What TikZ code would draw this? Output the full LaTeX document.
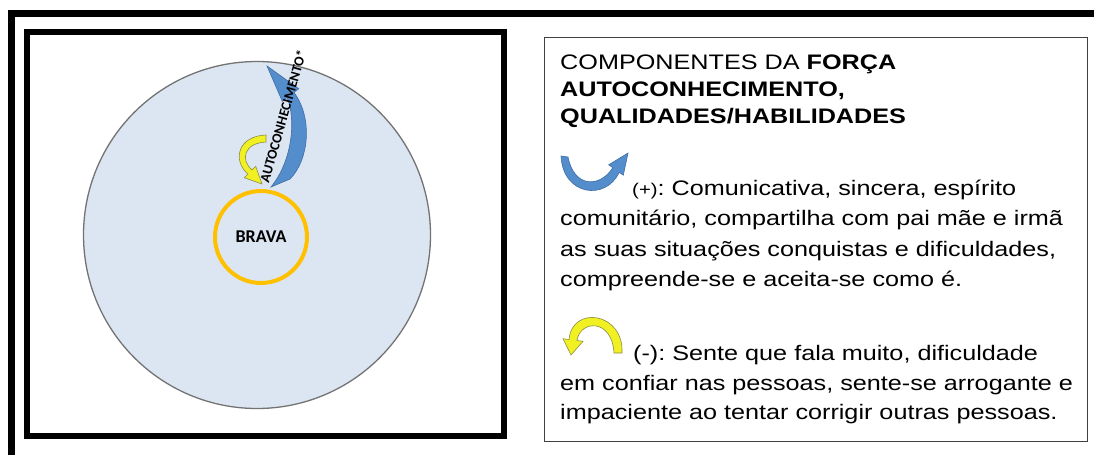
\documentclass[tikz,border=0pt]{standalone}
\usepackage{fontspec}
\setmainfont{Liberation Sans}[FakeStretch=1.2]
\newfontfamily\calibri{Carlito}
\frenchspacing

\definecolor{fieldblue}{RGB}{220,230,242}
\definecolor{arrowblue}{RGB}{84,141,204}
\definecolor{arrowedge}{RGB}{62,108,165}
\definecolor{arrowyellow}{RGB}{240,240,35}
\definecolor{yellowedge}{RGB}{140,140,70}
\definecolor{ring}{RGB}{255,192,0}

\tikzset{
  bluearrow/.style={fill=arrowblue, draw=arrowedge, line width=0.6pt},
  yellowarrow/.style={fill=arrowyellow, draw=yellowedge, line width=0.6pt},
  textline/.style={anchor=base west, inner sep=0pt, font=\fontsize{21}{30}\selectfont}
}

\begin{document}
\begin{tikzpicture}[x=1pt,y=-1pt]
      \useasboundingbox (0,0) rectangle (1094,455);

      % frames
      \draw[line width=7pt] (11,455) -- (11,13.5) -- (1094,13.5);
      \draw[line width=6pt] (26.5,32) rectangle (503.5,436);
      \draw[black!75, line width=1pt] (544.5,37.5) rectangle (1087.5,441.5);

      \node[circle, fill=fieldblue, draw=black!55, line width=1.3pt,
	minimum size=347pt, inner sep=0pt] (field) at (257,235) {};
      \node[circle, draw=ring, line width=4pt, minimum size=92pt,
	inner sep=0pt, font=\calibri\bfseries\fontsize{18}{18}\selectfont] (brava) at (261,237) {BRAVA};

      % arrows around the ring
      \draw[bluearrow] (271,187) -- (290,179) .. controls (309,160) and (313,118) .. (294,92.5)
	-- (298.7,88.7) -- (267,66) -- (282.3,101.3) -- (287,97.5)
	.. controls (296,118) and (293,160) .. (271,187) -- cycle;
      \draw[yellowarrow] (266,135) .. controls (238,136) and (232,160) .. (247.9,174.1)
	-- (244.3,177.7) -- (262,184) -- (255.7,166.3) -- (252.1,169.9)
	.. controls (240,160) and (244,143) .. (266,142) -- cycle;
      \node[rotate=74, inner sep=0pt, font=\calibri\bfseries\fontsize{14}{14}\selectfont]
	(force) at (283,116) {AUTOCONHECIMENTO*};

      % legend
      \foreach \t/\ty [count=\s] in {
	{COMPONENTES DA \textbf{FORÇA}}/69,
	{\textbf{AUTOCONHECIMENTO,}}/96,
	{\textbf{QUALIDADES/HABILIDADES}}/123
      }
      {
	\node[textline] (title\s) at (560,\ty) {\t};
      }

      \draw[bluearrow] (561,156) .. controls (563,196) and (606,201) .. (619.2,172.3)
	-- (623.3,175.2) -- (628,153) -- (608.7,164.8) -- (612.8,167.7)
	.. controls (600,188) and (574,188) .. (568,157) -- cycle;
      \draw[yellowarrow] (622,353) .. controls (624,312) and (572,305) .. (569,339.5)
	-- (563,338.7) -- (571,355) -- (583,341.3) -- (577,340.5)
	.. controls (580,320) and (612,318) .. (614,353) -- cycle;

      \foreach \t/\tx/\ty [count=\s] in {
	{{\fontsize{17}{17}\selectfont(+)}: Comunicativa, sincera, espírito}/632/195,
	{comunitário, compartilha com pai mãe e irmã}/560/225,
	{as suas situações conquistas e dificuldades,}/560/256,
	{compreende-se e aceita-se como é.}/560/286,
	{(-): Sente que fala muito, dificuldade}/633/360,
	{em confiar nas pessoas, sente-se arrogante e}/560/390,
	{impaciente ao tentar corrigir outras pessoas.}/560/419
      }
      {
	\node[textline] (line\s) at (\tx,\ty) {\t};
      }
\end{tikzpicture}
\end{document}
